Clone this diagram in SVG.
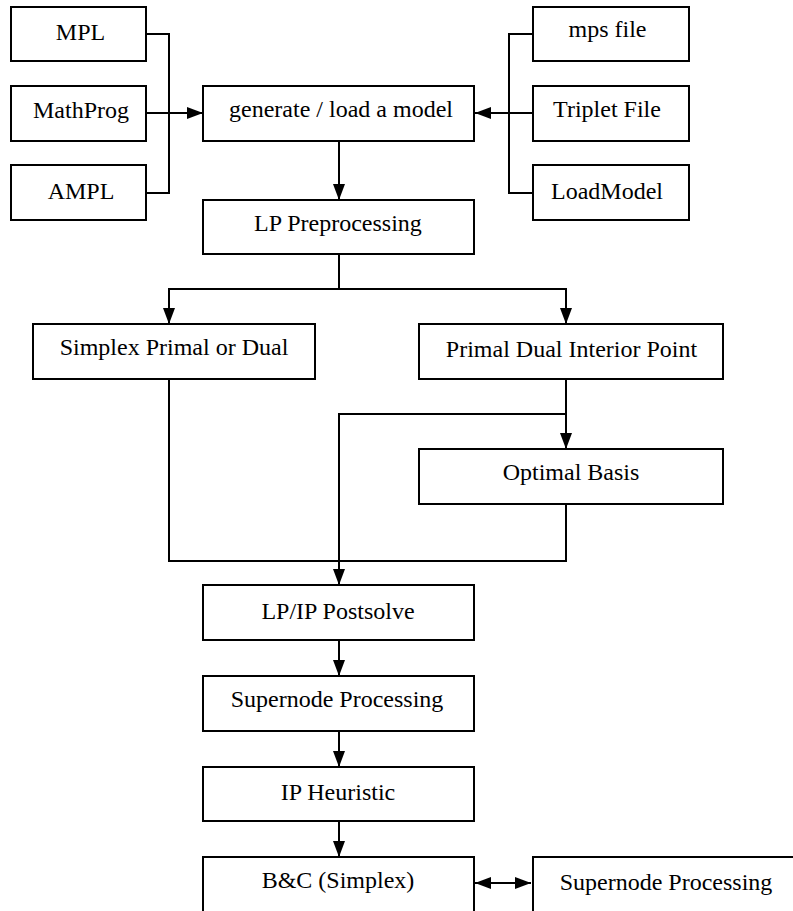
<svg xmlns="http://www.w3.org/2000/svg" width="793" height="911" viewBox="0 0 793 911">
  <style>
    .box { fill: #fff; stroke: #000; stroke-width: 2; }
    .lbl { font-family: "Liberation Serif", "Times New Roman", serif; font-size: 24px; fill: #000; text-anchor: middle; }
    .wire { fill: none; stroke: #000; stroke-width: 2; }
  </style>
  <defs>
    <marker id="arrow" viewBox="0 0 16 12" refX="16" refY="6" markerWidth="16" markerHeight="12" markerUnits="userSpaceOnUse" orient="auto-start-reverse">
      <path d="M0,0 L16,6 L0,12 z" fill="#000"/>
    </marker>
  </defs>
  <rect width="793" height="911" fill="#fff"/>

  <g id="connectors">
    <!-- modelling languages feed the model generator -->
    <path class="wire" d="M146,34 H169 V193 H146"/>
    <path class="wire" d="M146,113 H203" marker-end="url(#arrow)"/>
    <!-- file formats feed the model generator -->
    <path class="wire" d="M533,34 H509 V193 H533"/>
    <path class="wire" d="M533,113 H475" marker-end="url(#arrow)"/>
    <!-- model to preprocessing -->
    <path class="wire" d="M339,141 V200" marker-end="url(#arrow)"/>
    <!-- preprocessing splits into two solvers -->
    <path class="wire" d="M339,254 V289"/>
    <path class="wire" d="M339,289 H169 V324" marker-end="url(#arrow)"/>
    <path class="wire" d="M339,289 H566 V324" marker-end="url(#arrow)"/>
    <!-- interior point to basis and postsolve -->
    <path class="wire" d="M566,379 V449" marker-end="url(#arrow)"/>
    <path class="wire" d="M566,414 H339 V585" marker-end="url(#arrow)"/>
    <!-- simplex and basis merge -->
    <path class="wire" d="M169,379 V561 H566 V504"/>
    <!-- main chain -->
    <path class="wire" d="M339,640 V676" marker-end="url(#arrow)"/>
    <path class="wire" d="M339,731 V767" marker-end="url(#arrow)"/>
    <path class="wire" d="M339,821 V857" marker-end="url(#arrow)"/>
    <path class="wire" d="M475,883 H531" marker-start="url(#arrow)" marker-end="url(#arrow)"/>
  </g>

  <g id="mpl"><rect class="box" x="11" y="7" width="135" height="54"/><text class="lbl" x="80.5" y="40">MPL</text></g>
  <g id="mathprog"><rect class="box" x="11" y="86" width="135" height="55"/><text class="lbl" x="81" y="118">MathProg</text></g>
  <g id="ampl"><rect class="box" x="11" y="165" width="135" height="55"/><text class="lbl" x="81" y="199">AMPL</text></g>

  <g id="mps"><rect class="box" x="533" y="7" width="156" height="54"/><text class="lbl" x="607.5" y="37">mps file</text></g>
  <g id="triplet"><rect class="box" x="533" y="86" width="156" height="55"/><text class="lbl" x="607" y="117">Triplet File</text></g>
  <g id="loadmodel"><rect class="box" x="533" y="165" width="156" height="55"/><text class="lbl" x="607" y="199">LoadModel</text></g>

  <g id="generate"><rect class="box" x="203" y="86" width="271" height="55"/><text class="lbl" x="341" y="117">generate / load a model</text></g>
  <g id="preprocess"><rect class="box" x="203" y="200" width="271" height="54"/><text class="lbl" x="338" y="231">LP Preprocessing</text></g>

  <g id="simplex"><rect class="box" x="33" y="324" width="282" height="55"/><text class="lbl" x="174" y="355">Simplex Primal or Dual</text></g>
  <g id="interior"><rect class="box" x="419" y="324" width="304" height="55"/><text class="lbl" x="571.5" y="357">Primal Dual Interior Point</text></g>
  <g id="basis"><rect class="box" x="419" y="449" width="304" height="55"/><text class="lbl" x="571" y="480">Optimal Basis</text></g>

  <g id="postsolve"><rect class="box" x="203" y="585" width="271" height="55"/><text class="lbl" x="338" y="619">LP/IP Postsolve</text></g>
  <g id="supernode"><rect class="box" x="203" y="676" width="271" height="55"/><text class="lbl" x="337" y="707">Supernode Processing</text></g>
  <g id="heuristic"><rect class="box" x="203" y="767" width="271" height="54"/><text class="lbl" x="338" y="800">IP Heuristic</text></g>
  <g id="bandc"><rect class="box" x="203" y="857" width="271" height="70"/><text class="lbl" x="338" y="888">B&amp;C (Simplex)</text></g>
  <g id="supernode2"><rect class="box" x="533" y="857" width="270" height="70"/><text class="lbl" x="666" y="890">Supernode Processing</text></g>
</svg>
